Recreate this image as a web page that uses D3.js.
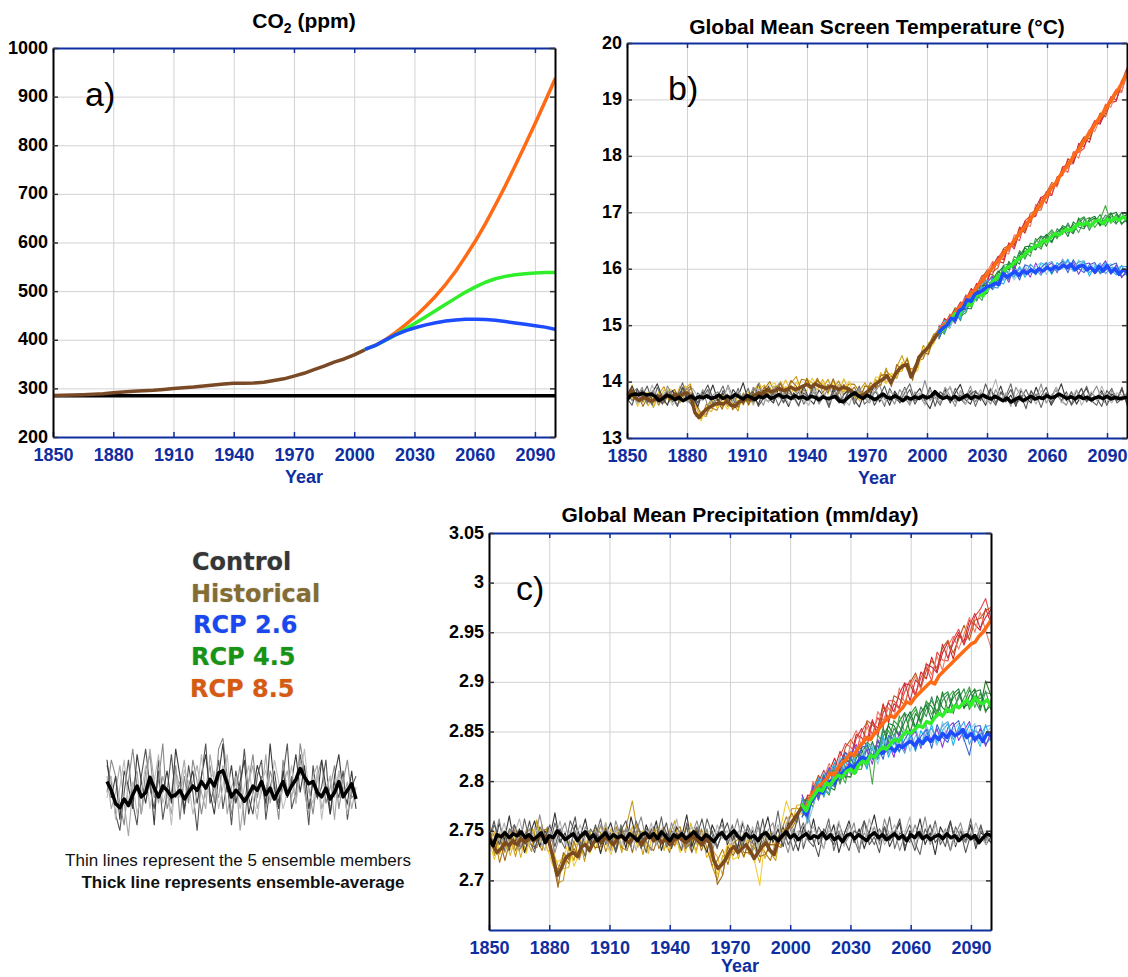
<!DOCTYPE html>
<html><head><meta charset="utf-8">
<script src="https://cdn.jsdelivr.net/npm/d3@7"></script>
<style>body{margin:0;background:#fff}svg{display:block}</style>
</head><body>
<svg id="chart" width="1128" height="977"></svg>
<script>
// ---------- categories / ticks ----------
const xTicks = [1850,1880,1910,1940,1970,2000,2030,2060,2090];
const yTicksA = [200,300,400,500,600,700,800,900,1000];
const yTicksB = [13,14,15,16,17,18,19,20];
const yTicksC = [2.7,2.75,2.8,2.85,2.9,2.95,3,3.05];
const legendNames = ["Control","Historical","RCP 2.6","RCP 4.5","RCP 8.5"];

// ---------- panel a: CO2 (ppm) ----------
const co2Control = [285,285];                 // 1850-2100
const co2Hist = [285.2,285.8,286.4,287.0,287.9,289.0,290.8,292.4,294.0,295.0,296.1,297.7,299.7,301.4,303.0,305.1,307.0,309.0,310.5,310.4,311.0,312.8,316.3,319.6,325.2,331.0,338.4,345.6,354.0,360.5,369.0,378.8]; // 1850-2005
const co2Rcp26 = [381.0,389.1,400.2,410.7,418.9,425.1,430.6,435.0,438.4,440.8,442.1,442.4,441.7,440.2,437.5,434.6,431.9,429.0,426.0,421.4]; // 2006-2100
const co2Rcp45 = [381.0,389.0,399.6,410.6,422.8,435.0,447.4,460.0,472.8,485.6,498.0,508.7,518.3,525.4,530.3,533.7,535.9,537.2,538.1,538.4];
const co2Rcp85 = [381.0,389.3,401.0,415.8,431.5,449.3,468.9,490.1,514.0,541.0,571.5,603.5,638.9,677.1,716.5,758.2,801.0,844.8,890.0,935.9];

// ---------- panel b: temperature (deg C) ----------
const ctrlMeanT = [13.68,13.76,13.78,13.77,13.79,13.76,13.78,13.74,13.66,13.70,13.76,13.73,13.68,13.72,13.66,13.70,13.74,13.69,13.73,13.71,13.75,13.70,13.72,13.76,13.70,13.74,13.71,13.77,13.73,13.69,13.75,13.72,13.68,13.74,13.71,13.76,13.70,13.73,13.77,13.72,13.74,13.70,13.75,13.71,13.73,13.69,13.74,13.72,13.68,13.73,13.70,13.71,13.74,13.66,13.64,13.70,13.76,13.80,13.74,13.70,13.76,13.72,13.68,13.73,13.78,13.72,13.70,13.75,13.71,13.66,13.72,13.69,13.73,13.70,13.75,13.71,13.74,13.82,13.75,13.70,13.73,13.69,13.74,13.68,13.72,13.76,13.70,13.74,13.71,13.76,13.72,13.69,13.74,13.70,13.66,13.71,13.64,13.68,13.72,13.66,13.70,13.74,13.69,13.72,13.70,13.75,13.71,13.73,13.78,13.74,13.70,13.73,13.69,13.74,13.70,13.72,13.68,13.71,13.73,13.70,13.74,13.69,13.72,13.70,13.71,13.72];
const ctrlT1 = [13.75,13.92,13.70,13.85,13.62,13.80,13.96,13.72,13.58,13.84,13.68,13.90,13.63,13.78,13.55,13.82,13.70,13.94,13.66,13.80,13.60,13.86,13.74,13.98,13.66,13.78,13.59,13.84,13.71,13.62,13.88,13.74,13.56,13.80,13.68,13.92,13.70,13.60,13.85,13.73,13.66,13.90,13.62,13.78,13.86,13.68,13.55,13.80,13.72,13.95,13.64,13.79,13.58,13.83,13.70,13.90,13.62,13.76,13.88,13.66,13.52,13.78,13.70,13.86,13.62,13.80,13.95,13.68,13.60,13.82,13.74,13.58,13.86,13.70,13.92,13.64,13.76,13.56,13.84,13.72,13.62,13.90,13.68,13.80,13.58,13.74,13.96,13.66,13.82,13.60,13.76,13.88,13.64,13.72,13.84,13.58,13.78,13.70,13.86,13.62];
const ctrlT2 = [13.62,13.80,13.88,13.66,13.74,13.58,13.90,13.70,13.82,13.64,13.76,13.98,13.68,13.56,13.80,13.72,13.86,13.60,13.74,13.92,13.66,13.58,13.82,13.70,13.88,13.62,13.96,13.72,13.64,13.80,13.57,13.76,13.90,13.68,13.82,13.60,13.74,13.94,13.66,13.78,13.58,13.86,13.70,13.62,13.84,13.74,13.92,13.60,13.68,13.82,13.76,13.56,13.88,13.70,13.64,13.80,13.96,13.66,13.74,13.60,13.86,13.72,13.58,13.80,13.90,13.64,13.76,13.68,13.84,13.56,13.78,13.70,13.88,13.62,13.82,13.74,13.96,13.60,13.70,13.86,13.66,13.78,13.54,13.80,13.72,13.90,13.64,13.76,13.60,13.84,13.70,13.92,13.66,13.58,13.80,13.74,13.88,13.62,13.70,13.78];
const ctrlT3 = [13.80,13.66,13.74,13.90,13.60,13.84,13.70,13.62,13.92,13.76,13.58,13.82,13.88,13.70,13.64,13.86,13.56,13.76,13.82,13.68,13.94,13.72,13.60,13.78,13.66,13.90,13.74,13.58,13.84,13.70,13.96,13.64,13.80,13.72,13.56,13.88,13.66,13.82,13.60,13.74,13.92,13.70,13.84,13.58,13.76,13.66,13.88,13.72,13.62,13.80,13.94,13.68,13.76,13.60,13.86,13.72,13.58,13.82,13.70,14.02,13.66,13.78,13.62,13.90,13.74,13.56,13.84,13.70,13.92,13.64,13.80,13.72,13.60,13.86,13.68,13.78,13.56,13.90,13.74,13.64,13.82,13.70,13.96,13.62,13.76,13.84,13.66,13.58,13.80,13.72,13.88,13.64,13.76,13.92,13.68,13.60,13.84,13.74,13.66,13.80];
const ctrlT4 = [13.70,13.58,13.86,13.74,13.92,13.66,13.78,13.60,13.84,13.72,13.56,13.90,13.68,13.80,13.62,13.76,13.94,13.70,13.58,13.84,13.72,13.64,13.88,13.60,13.76,13.82,13.56,13.70,13.92,13.66,13.78,13.62,13.86,13.74,13.58,13.80,13.70,13.90,13.64,13.76,13.54,13.84,13.72,13.66,13.88,13.60,13.78,13.70,13.84,13.58,13.74,13.92,13.66,13.80,13.62,13.72,13.86,13.60,13.76,13.68,13.90,13.56,13.82,13.74,13.64,13.88,13.70,13.60,13.78,13.84,13.66,13.96,13.72,13.58,13.80,13.70,13.86,13.62,13.76,13.52,13.84,13.68,13.74,13.90,13.62,13.78,13.66,13.82,13.58,13.72,13.88,13.64,13.80,13.70,13.56,13.84,13.74,13.66,13.90,13.58];
const ctrlT5 = [13.66,13.84,13.60,13.78,13.70,13.94,13.64,13.76,13.86,13.58,13.72,13.80,13.62,13.88,13.74,13.66,13.82,13.56,13.78,13.70,13.90,13.62,13.84,13.68,13.76,13.58,13.86,13.72,13.64,13.92,13.70,13.80,13.60,13.74,13.84,13.66,13.58,13.88,13.72,13.80,13.62,13.76,13.94,13.68,13.58,13.84,13.70,13.78,13.64,13.90,13.72,13.60,13.82,13.76,13.68,13.88,13.62,13.74,13.80,13.58,13.86,13.70,13.64,13.76,13.92,13.66,13.82,13.60,13.74,13.70,13.86,13.62,13.78,14.04,13.68,13.80,13.58,13.74,13.88,13.64,13.76,13.60,13.84,13.72,13.66,13.90,13.62,13.78,13.70,13.86,13.58,13.74,13.82,13.66,13.92,13.70,13.62,13.80,13.76,13.68];

const histMeanT = [13.70,13.85,13.72,13.66,13.72,13.70,13.65,13.68,13.74,13.72,13.76,13.70,13.78,13.74,13.78,13.80,13.72,13.45,13.36,13.45,13.52,13.56,13.60,13.62,13.60,13.65,13.58,13.56,13.64,13.66,13.70,13.68,13.76,13.80,13.78,13.86,13.82,13.84,13.88,13.84,13.86,13.90,13.86,13.88,13.92,13.95,13.90,13.96,13.92,13.90,13.88,13.92,13.90,13.86,13.90,13.88,13.84,13.78,13.74,13.76,13.82,13.88,13.95,14.00,14.04,14.10,13.98,14.12,14.22,14.28,14.30,14.08,14.22,14.42,14.52,14.58,14.68,14.78,14.88];
const histT1 = [13.82,13.72,13.85,13.63,13.80,13.54,13.78,13.91,13.64,13.78,13.62,13.88,13.96,13.44,13.41,13.38,13.68,13.56,13.77,13.56,13.63,13.48,13.80,13.64,13.84,13.98,13.71,13.90,13.73,14.00,13.82,13.97,14.09,13.83,13.99,13.79,14.05,13.87,14.04,13.82,13.95,13.77,13.90,13.66,13.84,13.98,13.80,14.04,13.93,14.24,13.95,14.26,14.46,14.20,14.16,14.26,14.64,14.52,14.82,14.94];
const histT2 = [13.60,13.94,13.64,13.77,13.57,13.73,13.68,13.85,13.77,13.63,13.92,13.72,13.81,13.38,13.46,13.50,13.47,13.74,13.55,13.74,13.55,13.75,13.58,13.82,13.69,13.86,13.94,13.74,13.93,13.83,14.03,13.81,13.90,13.78,14.04,13.98,13.85,14.04,13.84,14.02,13.80,14.05,13.82,13.82,13.65,13.92,13.93,13.89,14.16,13.99,14.10,14.18,14.18,14.43,14.07,14.42,14.44,14.69,14.68,14.88];
const histT3 = [13.75,13.68,13.78,13.82,13.64,13.77,13.58,13.76,13.84,13.67,13.81,13.69,13.89,13.58,13.33,13.60,13.53,13.49,13.70,13.68,13.72,13.54,13.77,13.58,13.77,13.71,13.87,14.00,13.79,13.97,13.74,13.93,13.80,14.04,14.02,13.89,14.06,13.80,13.95,13.87,14.01,13.82,13.96,13.95,13.81,13.72,13.98,13.90,13.95,14.19,14.09,14.06,14.31,14.24,14.22,14.38,14.40,14.64,14.84,14.85];
const histT4 = [13.64,13.84,13.56,13.74,13.82,13.57,13.82,13.68,13.87,13.83,13.72,13.93,13.64,13.60,13.30,13.54,13.70,13.53,13.65,13.51,13.68,13.67,13.61,13.79,13.60,13.92,13.77,13.94,13.97,13.79,13.92,13.78,13.99,13.85,13.84,14.06,13.92,13.98,13.77,14.00,13.91,13.83,14.01,13.71,13.87,13.75,13.76,14.08,14.07,13.96,14.15,14.08,14.35,14.22,14.14,14.20,14.58,14.54,14.67,14.93];
const histT5 = [13.79,13.75,13.80,13.56,13.74,13.79,13.65,13.62,13.80,13.86,13.68,13.84,13.92,13.62,13.43,13.42,13.60,13.68,13.51,13.78,13.50,13.63,13.78,13.60,13.89,13.74,13.91,13.72,13.89,13.96,13.79,14.02,13.92,13.79,14.06,13.85,14.02,13.93,13.80,14.05,13.78,13.95,13.80,13.90,13.71,13.92,13.90,13.86,14.11,14.13,13.91,14.30,14.22,14.40,14.02,14.44,14.53,14.48,14.80,14.84];

const rcp26MeanT = [14.88,14.95,15.00,15.12,15.10,15.25,15.30,15.45,15.42,15.55,15.58,15.62,15.68,15.70,15.74,15.72,15.92,15.85,15.90,15.95,15.88,15.96,15.92,15.98,15.94,16.00,15.96,16.02,15.98,16.04,16.00,16.06,16.02,16.08,15.98,16.04,16.06,15.98,16.02,15.94,16.04,15.96,16.06,15.94,16.00,15.90,15.98,15.94];
const rcp26T1 = [14.98,14.91,15.17,15.03,15.27,15.52,15.37,15.58,15.50,15.77,15.86,15.69,15.93,15.76,16.05,15.87,16.00,15.85,16.10,15.91,16.04,16.10,15.93,16.17,15.99,16.12,15.90,16.08,16.10,15.91,16.01,16.14,15.90,16.07,15.84,15.98];
const rcp26T2 = [14.80,15.09,15.01,15.22,15.11,15.44,15.58,15.46,15.67,15.62,15.82,15.77,15.73,15.94,15.88,16.04,15.85,16.00,15.89,16.10,16.06,15.90,16.11,16.01,16.17,15.96,16.07,16.12,15.87,16.05,15.94,16.11,15.98,15.89,16.06,15.88];
const rcp26T3 = [14.92,15.06,14.95,15.18,15.35,15.31,15.47,15.67,15.57,15.59,15.78,15.86,15.79,15.96,15.80,15.95,16.05,15.92,16.04,16.11,15.90,16.06,15.97,16.16,16.07,15.95,16.16,15.96,16.03,16.08,15.90,16.05,16.09,15.91,15.97,16.02];
const rcp26T4 = [14.76,15.02,15.13,15.05,15.32,15.34,15.34,15.62,15.76,15.72,15.63,15.83,15.97,15.81,15.99,15.80,16.07,16.03,15.90,16.02,16.11,15.92,16.05,16.13,15.93,16.16,16.00,15.93,16.07,16.11,15.92,15.97,16.06,16.10,15.86,15.92];
const rcp26T5 = [14.95,14.87,15.09,15.25,15.19,15.26,15.54,15.49,15.72,15.80,15.67,15.66,15.99,15.91,15.85,16.01,15.89,16.08,15.99,15.88,16.08,16.13,15.95,16.09,16.13,16.00,16.12,16.14,15.93,16.01,16.10,15.91,16.02,16.01,16.04,16.04];

const rcp45MeanT = [14.88,14.92,15.02,15.08,15.20,15.18,15.30,15.38,15.35,15.50,15.55,15.52,15.65,15.72,15.80,15.88,15.92,16.02,16.05,16.12,16.18,16.22,16.30,16.34,16.40,16.42,16.50,16.48,16.56,16.62,16.60,16.66,16.70,16.68,16.74,16.80,16.78,16.82,16.76,16.84,16.86,16.80,16.88,16.84,16.90,16.86,16.92,16.88];
const rcp45T1 = [14.92,15.03,14.95,15.21,15.32,15.27,15.42,15.64,15.51,15.57,15.81,15.96,15.86,16.13,15.97,16.23,16.37,16.29,16.48,16.58,16.40,16.62,16.57,16.76,16.71,16.62,16.90,16.74,16.84,16.90,16.76,16.89,16.99,16.81,16.91,16.96];
const rcp45T2 = [14.95,14.84,15.09,15.28,15.16,15.22,15.49,15.46,15.66,15.78,15.70,15.76,16.06,16.08,16.02,16.29,16.21,16.45,16.43,16.35,16.58,16.69,16.55,16.69,16.77,16.67,16.86,16.92,16.74,16.83,16.96,16.75,16.92,16.91,16.98,16.98];
const rcp45T3 = [14.98,14.88,15.17,15.06,15.24,15.48,15.32,15.55,15.44,15.75,15.89,15.79,16.00,15.93,16.22,16.15,16.32,16.22,16.54,16.38,16.54,16.66,16.53,16.77,16.63,16.79,16.64,16.86,16.91,16.73,16.87,17.12,16.80,16.97,16.78,16.92];
const rcp45T4 = [14.80,15.06,15.01,15.25,15.08,15.40,15.53,15.43,15.61,15.60,15.85,15.87,15.80,16.11,16.05,16.32,16.17,16.37,16.33,16.57,16.56,16.46,16.71,16.61,16.81,16.63,16.81,16.90,16.68,16.87,16.80,16.95,16.88,16.79,17.00,16.82];
const rcp45T5 = [14.76,14.99,15.13,15.08,15.29,15.30,15.29,15.59,15.70,15.70,15.66,15.93,16.04,15.98,16.16,16.08,16.39,16.40,16.34,16.49,16.61,16.48,16.65,16.73,16.57,16.83,16.74,16.71,16.88,16.93,16.78,16.81,16.96,17.00,16.80,16.86];

const rcp85MeanT = [14.90,14.98,15.05,15.15,15.22,15.30,15.38,15.48,15.55,15.62,15.72,15.80,15.90,15.98,16.08,16.15,16.26,16.35,16.42,16.52,16.62,16.70,16.80,16.90,17.00,17.10,17.20,17.30,17.42,17.50,17.62,17.72,17.82,17.92,18.04,18.12,18.24,18.34,18.44,18.56,18.66,18.76,18.88,18.98,19.10,19.20,19.32,19.46];
const rcp85T1 = [14.82,15.12,15.04,15.28,15.17,15.46,15.65,15.53,15.79,15.80,16.09,16.13,16.10,16.44,16.43,16.74,16.63,16.90,16.93,17.26,17.32,17.30,17.63,17.65,17.95,17.87,18.13,18.32,18.24,18.57,18.60,18.89,18.94,18.97,19.34,19.40];
const rcp85T2 = [14.78,15.05,15.16,15.11,15.38,15.36,15.41,15.69,15.88,15.90,15.90,16.19,16.34,16.31,16.54,16.50,16.85,16.93,16.94,17.18,17.37,17.32,17.57,17.77,17.71,18.07,18.06,18.13,18.44,18.63,18.58,18.75,19.02,19.18,19.14,19.44];
const rcp85T3 = [14.97,14.90,15.12,15.31,15.25,15.28,15.61,15.56,15.84,15.98,15.94,16.02,16.36,16.41,16.40,16.71,16.67,16.98,17.03,17.04,17.34,17.53,17.47,17.73,17.91,17.91,18.18,18.34,18.30,18.53,18.76,18.69,18.98,19.09,19.32,19.56];
const rcp85T4 = [15.00,14.94,15.20,15.09,15.33,15.54,15.44,15.65,15.62,15.95,16.13,16.05,16.30,16.26,16.60,16.57,16.78,16.75,17.14,17.07,17.30,17.50,17.45,17.81,17.77,18.03,17.96,18.28,18.47,18.43,18.67,18.92,18.86,19.15,19.12,19.50];
const rcp85T5 = [14.94,15.09,14.98,15.24,15.41,15.33,15.54,15.74,15.69,15.77,16.05,16.22,16.16,16.46,16.35,16.65,16.83,16.82,17.08,17.27,17.16,17.46,17.49,17.80,17.85,17.86,18.22,18.16,18.40,18.60,18.56,18.83,19.05,18.99,19.25,19.54];

// ---------- panel c: precipitation (mm/day) ----------
const ctrlMeanP = [2.742,2.735,2.746,2.744,2.748,2.743,2.747,2.745,2.749,2.743,2.746,2.741,2.744,2.748,2.738,2.745,2.743,2.750,2.746,2.741,2.744,2.747,2.740,2.745,2.749,2.742,2.746,2.740,2.744,2.748,2.742,2.746,2.743,2.745,2.741,2.747,2.744,2.740,2.746,2.748,2.743,2.747,2.742,2.749,2.744,2.740,2.746,2.743,2.747,2.742,2.745,2.749,2.744,2.741,2.746,2.743,2.739,2.745,2.748,2.742,2.746,2.750,2.744,2.741,2.747,2.743,2.745,2.740,2.746,2.748,2.742,2.744,2.740,2.745,2.749,2.743,2.746,2.741,2.744,2.747,2.742,2.745,2.743,2.748,2.742,2.746,2.741,2.744,2.739,2.745,2.747,2.742,2.746,2.743,2.740,2.745,2.748,2.743,2.746,2.741,2.744,2.747,2.742,2.745,2.740,2.746,2.743,2.748,2.742,2.745,2.741,2.744,2.746,2.742,2.747,2.743,2.745,2.740,2.744,2.746,2.742,2.745,2.738,2.743,2.747,2.745];
const ctrlP1 = [2.750,2.732,2.758,2.740,2.765,2.736,2.752,2.728,2.746,2.760,2.734,2.750,2.742,2.768,2.738,2.748,2.730,2.756,2.744,2.762,2.736,2.750,2.727,2.746,2.758,2.740,2.752,2.732,2.764,2.744,2.736,2.756,2.742,2.760,2.730,2.748,2.738,2.754,2.744,2.766,2.734,2.750,2.740,2.728,2.756,2.744,2.762,2.736,2.748,2.732,2.758,2.742,2.750,2.726,2.746,2.764,2.738,2.752,2.734,2.758,2.744,2.730,2.754,2.740,2.762,2.736,2.748,2.742,2.756,2.728,2.746,2.760,2.738,2.752,2.732,2.748,2.766,2.740,2.754,2.734,2.746,2.758,2.730,2.750,2.742,2.762,2.736,2.748,2.726,2.754,2.744,2.760,2.734,2.750,2.740,2.756,2.732,2.748,2.744,2.738];
const ctrlP2 = [2.738,2.756,2.744,2.730,2.752,2.748,2.734,2.762,2.740,2.728,2.754,2.746,2.736,2.758,2.742,2.732,2.760,2.748,2.738,2.724,2.752,2.744,2.762,2.736,2.748,2.730,2.756,2.742,2.734,2.760,2.746,2.728,2.752,2.740,2.764,2.734,2.750,2.744,2.730,2.758,2.742,2.754,2.736,2.762,2.746,2.732,2.750,2.740,2.756,2.728,2.744,2.752,2.738,2.760,2.734,2.748,2.742,2.770,2.736,2.750,2.730,2.746,2.758,2.740,2.734,2.754,2.744,2.762,2.730,2.748,2.738,2.756,2.742,2.728,2.760,2.746,2.736,2.752,2.740,2.764,2.732,2.748,2.744,2.756,2.738,2.726,2.752,2.742,2.760,2.736,2.746,2.730,2.754,2.744,2.738,2.762,2.734,2.750,2.742,2.748];
const ctrlP3 = [2.746,2.740,2.762,2.734,2.748,2.756,2.730,2.744,2.752,2.738,2.766,2.742,2.750,2.728,2.746,2.758,2.736,2.750,2.732,2.754,2.746,2.738,2.756,2.742,2.730,2.760,2.744,2.752,2.736,2.748,2.764,2.740,2.730,2.754,2.746,2.736,2.758,2.742,2.750,2.734,2.746,2.760,2.740,2.752,2.728,2.748,2.756,2.738,2.744,2.762,2.736,2.748,2.730,2.754,2.742,2.750,2.758,2.736,2.744,2.728,2.752,2.740,2.748,2.766,2.738,2.746,2.732,2.756,2.742,2.750,2.736,2.744,2.758,2.730,2.748,2.740,2.754,2.736,2.762,2.744,2.750,2.730,2.746,2.738,2.756,2.742,2.764,2.736,2.748,2.740,2.752,2.730,2.746,2.758,2.738,2.748,2.736,2.754,2.740,2.746];
const ctrlP4 = [2.742,2.760,2.736,2.750,2.730,2.756,2.744,2.738,2.760,2.732,2.748,2.742,2.756,2.734,2.752,2.740,2.746,2.764,2.730,2.748,2.740,2.756,2.736,2.752,2.744,2.728,2.750,2.760,2.738,2.746,2.732,2.752,2.748,2.736,2.744,2.758,2.732,2.748,2.740,2.754,2.728,2.744,2.762,2.738,2.750,2.734,2.746,2.758,2.740,2.748,2.732,2.756,2.744,2.738,2.762,2.730,2.748,2.742,2.754,2.736,2.746,2.766,2.732,2.750,2.740,2.724,2.752,2.744,2.736,2.758,2.742,2.730,2.750,2.746,2.760,2.736,2.744,2.728,2.754,2.740,2.748,2.762,2.734,2.744,2.730,2.750,2.742,2.756,2.738,2.746,2.734,2.758,2.742,2.750,2.728,2.746,2.740,2.756,2.736,2.744];
const ctrlP5 = [2.752,2.744,2.740,2.758,2.734,2.746,2.762,2.740,2.736,2.754,2.744,2.730,2.752,2.740,2.760,2.736,2.750,2.744,2.756,2.738,2.732,2.750,2.744,2.758,2.740,2.752,2.736,2.746,2.752,2.730,2.748,2.740,2.758,2.736,2.752,2.744,2.740,2.762,2.736,2.746,2.754,2.738,2.748,2.744,2.734,2.756,2.742,2.750,2.736,2.746,2.760,2.740,2.754,2.732,2.748,2.740,2.746,2.756,2.738,2.764,2.742,2.750,2.736,2.748,2.754,2.740,2.732,2.750,2.746,2.760,2.734,2.756,2.742,2.748,2.738,2.762,2.744,2.750,2.736,2.746,2.756,2.740,2.748,2.764,2.734,2.752,2.744,2.738,2.756,2.742,2.750,2.744,2.736,2.752,2.746,2.740,2.758,2.744,2.736,2.750];

const histMeanP = [2.745,2.735,2.728,2.732,2.738,2.735,2.740,2.736,2.742,2.738,2.744,2.740,2.742,2.746,2.744,2.738,2.722,2.705,2.712,2.722,2.726,2.728,2.724,2.734,2.736,2.730,2.738,2.742,2.738,2.744,2.740,2.736,2.742,2.745,2.740,2.738,2.744,2.741,2.736,2.742,2.746,2.740,2.744,2.738,2.742,2.736,2.740,2.745,2.741,2.738,2.742,2.744,2.740,2.736,2.742,2.738,2.720,2.712,2.716,2.722,2.730,2.734,2.728,2.732,2.736,2.730,2.722,2.728,2.734,2.738,2.730,2.726,2.740,2.744,2.750,2.756,2.762,2.768,2.774];
const histP1 = [2.757,2.725,2.748,2.728,2.745,2.724,2.748,2.743,2.729,2.761,2.734,2.746,2.739,2.697,2.700,2.733,2.720,2.745,2.719,2.747,2.743,2.728,2.758,2.733,2.753,2.728,2.758,2.780,2.748,2.726,2.751,2.738,2.753,2.731,2.746,2.760,2.730,2.745,2.730,2.750,2.734,2.751,2.715,2.700,2.725,2.721,2.745,2.722,2.749,2.726,2.733,2.718,2.750,2.728,2.720,2.751,2.744,2.772,2.773,2.770];
const histP2 = [2.737,2.749,2.726,2.744,2.725,2.744,2.723,2.751,2.749,2.739,2.756,2.730,2.730,2.715,2.712,2.713,2.736,2.737,2.725,2.750,2.731,2.746,2.739,2.752,2.735,2.750,2.739,2.754,2.733,2.745,2.727,2.751,2.744,2.730,2.752,2.734,2.745,2.728,2.758,2.736,2.750,2.723,2.731,2.724,2.705,2.740,2.728,2.737,2.723,2.744,2.718,2.740,2.722,2.740,2.742,2.735,2.758,2.755,2.776,2.776];
const histP3 = [2.750,2.745,2.718,2.738,2.751,2.730,2.744,2.729,2.753,2.741,2.730,2.754,2.719,2.711,2.726,2.717,2.740,2.721,2.739,2.733,2.753,2.748,2.729,2.744,2.754,2.733,2.730,2.748,2.756,2.734,2.747,2.754,2.732,2.744,2.728,2.750,2.754,2.734,2.746,2.729,2.752,2.733,2.715,2.720,2.731,2.716,2.737,2.742,2.728,2.728,2.738,2.736,2.728,2.720,2.740,2.749,2.764,2.752,2.762,2.780];
const histP4 = [2.741,2.721,2.738,2.746,2.731,2.748,2.742,2.727,2.747,2.755,2.746,2.732,2.715,2.719,2.722,2.739,2.714,2.727,2.745,2.727,2.747,2.754,2.737,2.726,2.748,2.753,2.734,2.746,2.740,2.750,2.731,2.746,2.754,2.734,2.732,2.746,2.728,2.754,2.749,2.727,2.748,2.747,2.721,2.706,2.723,2.736,2.721,2.724,2.744,2.746,2.720,2.695,2.742,2.748,2.724,2.755,2.780,2.764,2.764,2.768];
const histP5 = [2.753,2.731,2.742,2.720,2.741,2.752,2.732,2.749,2.735,2.733,2.750,2.752,2.721,2.693,2.728,2.721,2.732,2.723,2.747,2.741,2.733,2.734,2.753,2.742,2.730,2.749,2.750,2.728,2.750,2.748,2.735,2.730,2.746,2.754,2.736,2.736,2.750,2.732,2.737,2.753,2.730,2.743,2.735,2.696,2.705,2.734,2.725,2.736,2.724,2.740,2.736,2.724,2.726,2.736,2.736,2.733,2.756,2.768,2.758,2.782];

const rcp26MeanP = [2.776,2.766,2.778,2.784,2.790,2.788,2.796,2.800,2.798,2.806,2.808,2.812,2.816,2.814,2.820,2.824,2.822,2.826,2.824,2.830,2.828,2.832,2.834,2.830,2.836,2.834,2.838,2.840,2.836,2.842,2.838,2.844,2.840,2.846,2.842,2.848,2.844,2.850,2.846,2.848,2.852,2.844,2.848,2.842,2.846,2.840,2.848,2.846];
const rcp26P1 = [2.786,2.762,2.796,2.781,2.801,2.814,2.798,2.815,2.803,2.827,2.837,2.820,2.832,2.817,2.842,2.829,2.839,2.824,2.850,2.831,2.844,2.850,2.833,2.856,2.839,2.853,2.834,2.854,2.859,2.841,2.851,2.860,2.839,2.853,2.835,2.850];
const rcp26P2 = [2.768,2.780,2.780,2.800,2.785,2.806,2.819,2.803,2.820,2.812,2.833,2.828,2.812,2.835,2.825,2.846,2.824,2.839,2.829,2.850,2.846,2.830,2.851,2.840,2.857,2.837,2.851,2.858,2.836,2.855,2.844,2.857,2.847,2.835,2.857,2.840];
const rcp26P3 = [2.780,2.757,2.774,2.796,2.809,2.793,2.808,2.824,2.810,2.809,2.829,2.837,2.818,2.837,2.817,2.837,2.844,2.831,2.844,2.851,2.830,2.846,2.837,2.855,2.847,2.836,2.860,2.842,2.852,2.858,2.840,2.851,2.858,2.837,2.848,2.854];
const rcp26P4 = [2.764,2.773,2.792,2.783,2.806,2.796,2.795,2.819,2.829,2.822,2.814,2.834,2.836,2.822,2.836,2.822,2.846,2.842,2.830,2.842,2.851,2.832,2.845,2.852,2.833,2.857,2.844,2.839,2.856,2.861,2.842,2.826,2.855,2.856,2.837,2.844];
const rcp26P5 = [2.783,2.758,2.788,2.803,2.793,2.788,2.815,2.806,2.825,2.830,2.818,2.817,2.838,2.832,2.822,2.843,2.828,2.847,2.839,2.828,2.848,2.853,2.835,2.848,2.853,2.841,2.856,2.860,2.842,2.851,2.860,2.837,2.851,2.847,2.855,2.856];

const rcp45MeanP = [2.776,2.770,2.780,2.786,2.792,2.790,2.798,2.796,2.802,2.806,2.804,2.810,2.812,2.808,2.816,2.820,2.818,2.826,2.824,2.830,2.834,2.832,2.838,2.842,2.840,2.846,2.850,2.848,2.852,2.856,2.854,2.860,2.858,2.864,2.868,2.866,2.872,2.870,2.876,2.874,2.878,2.882,2.876,2.884,2.880,2.878,2.882,2.876];
const rcp45P1 = [2.780,2.781,2.774,2.796,2.808,2.791,2.804,2.818,2.805,2.804,2.823,2.832,2.819,2.840,2.822,2.845,2.856,2.845,2.860,2.869,2.849,2.868,2.861,2.880,2.875,2.865,2.890,2.872,2.884,2.890,2.873,2.886,2.893,2.873,2.901,2.886];
const rcp45P2 = [2.783,2.762,2.788,2.803,2.792,2.786,2.811,2.800,2.820,2.825,2.812,2.812,2.839,2.835,2.827,2.851,2.840,2.861,2.855,2.846,2.867,2.875,2.859,2.873,2.881,2.870,2.886,2.890,2.874,2.883,2.893,2.872,2.886,2.883,2.889,2.888];
const rcp45P3 = [2.786,2.766,2.796,2.781,2.800,2.812,2.794,2.809,2.798,2.822,2.831,2.815,2.833,2.797,2.847,2.837,2.851,2.838,2.866,2.849,2.863,2.872,2.857,2.881,2.867,2.882,2.864,2.884,2.891,2.873,2.884,2.895,2.874,2.889,2.869,2.882];
const rcp45P4 = [2.768,2.784,2.780,2.800,2.784,2.804,2.815,2.797,2.815,2.807,2.827,2.823,2.813,2.838,2.830,2.854,2.836,2.853,2.845,2.868,2.865,2.852,2.875,2.865,2.885,2.866,2.881,2.888,2.868,2.887,2.877,2.892,2.882,2.871,2.891,2.872];
const rcp45P5 = [2.764,2.777,2.792,2.783,2.805,2.794,2.791,2.813,2.824,2.817,2.808,2.829,2.837,2.825,2.841,2.830,2.858,2.856,2.846,2.860,2.870,2.854,2.869,2.877,2.861,2.886,2.874,2.869,2.888,2.893,2.875,2.878,2.890,2.892,2.871,2.876];

const rcp85MeanP = [2.776,2.772,2.784,2.790,2.794,2.798,2.802,2.808,2.806,2.814,2.818,2.822,2.828,2.826,2.834,2.838,2.844,2.842,2.848,2.852,2.858,2.862,2.866,2.864,2.870,2.874,2.880,2.878,2.884,2.888,2.892,2.896,2.900,2.898,2.906,2.910,2.914,2.918,2.922,2.926,2.930,2.934,2.938,2.940,2.946,2.950,2.956,2.962];
const rcp85P1 = [2.768,2.786,2.784,2.803,2.787,2.810,2.823,2.809,2.829,2.824,2.847,2.844,2.835,2.860,2.853,2.878,2.859,2.878,2.873,2.898,2.897,2.886,2.910,2.903,2.925,2.910,2.929,2.940,2.923,2.947,2.941,2.962,2.958,2.952,2.974,2.959];
const rcp85P2 = [2.764,2.779,2.796,2.786,2.808,2.800,2.799,2.825,2.838,2.834,2.828,2.850,2.859,2.847,2.864,2.854,2.881,2.881,2.874,2.890,2.902,2.888,2.904,2.915,2.901,2.930,2.922,2.921,2.943,2.953,2.939,2.948,2.966,2.973,2.984,2.963];
const rcp85P3 = [2.783,2.764,2.792,2.806,2.795,2.792,2.819,2.812,2.834,2.842,2.832,2.833,2.861,2.857,2.850,2.875,2.863,2.886,2.883,2.876,2.899,2.909,2.894,2.911,2.921,2.914,2.934,2.942,2.929,2.943,2.957,2.942,2.962,2.964,2.972,2.975];
const rcp85P4 = [2.786,2.768,2.800,2.784,2.803,2.818,2.802,2.821,2.812,2.839,2.851,2.836,2.855,2.842,2.870,2.861,2.874,2.863,2.894,2.879,2.895,2.906,2.892,2.919,2.907,2.926,2.912,2.936,2.946,2.933,2.948,2.965,2.950,2.970,2.952,2.934];
const rcp85P5 = [2.780,2.783,2.778,2.799,2.811,2.797,2.812,2.830,2.819,2.821,2.843,2.853,2.841,2.862,2.845,2.869,2.879,2.870,2.888,2.899,2.881,2.902,2.896,2.918,2.915,2.909,2.938,2.924,2.939,2.950,2.937,2.956,2.969,2.954,2.965,2.973];

// ---------- legend illustration (arbitrary units 0..10) ----------
const ensMean = [6.0,5.2,4.0,3.6,4.4,3.8,4.8,5.6,4.6,5.0,6.4,5.4,4.6,5.6,5.2,4.6,4.8,5.2,4.4,5.0,5.6,5.2,6.0,5.4,6.2,5.6,6.8,7.0,5.8,4.6,5.2,4.8,4.2,4.8,5.6,5.2,6.0,4.8,5.4,4.4,5.2,6.0,4.8,5.6,6.2,7.2,6.4,5.8,6.0,5.0,4.6,5.4,4.4,5.0,6.0,4.6,5.2,5.8,4.4];
const ens1 = [7.5,6.0,3.0,1.5,5.0,8.0,4.0,2.0,6.5,9.0,5.5,3.5,7.0,2.5,5.0,8.5,4.5,6.0,3.0,7.5,5.0,1.5,6.5,9.5,4.0,5.5,8.0,3.5,6.0,2.0,7.0,5.0,9.0,4.5,3.0,6.5,8.0,2.5,5.5,7.0,4.0,6.5,9.5,3.5,5.0,8.5,6.0,2.0,7.5,4.5,5.5,8.0,3.0,6.0,4.5,7.0,2.5,5.5,6.5];
const ens2 = [5.0,8.0,6.5,4.0,2.0,6.0,9.0,5.5,3.0,7.0,8.5,4.5,6.0,9.5,3.5,5.0,7.5,2.5,6.5,4.0,8.0,6.0,3.0,5.5,7.5,4.0,9.0,10.0,6.5,3.0,5.0,7.5,2.0,6.0,8.5,4.5,6.5,3.5,7.0,5.5,2.5,8.0,5.0,6.5,4.0,9.5,7.0,5.5,3.0,6.5,8.0,4.0,5.5,7.5,3.5,6.0,8.0,4.5,5.0];
const ens3 = [6.5,3.5,5.0,7.5,4.0,1.0,5.5,7.0,3.0,5.5,9.0,6.0,4.0,6.5,5.0,3.0,7.0,5.5,8.0,4.5,6.0,7.5,5.0,3.5,8.5,6.0,4.5,7.5,3.0,5.5,6.5,1.5,4.5,6.0,7.5,3.5,5.0,8.5,4.0,6.0,3.5,5.5,7.0,4.5,6.5,8.0,5.0,3.0,6.5,7.5,3.5,5.0,6.5,2.5,7.0,4.5,6.0,3.5,5.5];
const ens4 = [8.0,4.5,6.5,2.5,7.0,5.5,3.5,8.5,6.0,4.0,6.5,2.0,8.0,5.0,7.0,4.0,9.0,6.5,3.5,5.5,7.0,4.0,6.5,8.5,5.0,3.0,6.5,9.5,5.0,7.5,4.0,6.0,8.0,3.0,5.0,7.5,6.0,4.0,9.5,5.5,3.5,7.0,4.5,6.0,8.5,5.0,7.5,3.5,6.0,4.5,8.0,5.5,3.0,6.5,8.5,5.0,4.0,7.0,3.5];
const ens5 = [4.5,6.5,2.5,5.5,8.0,4.0,6.0,3.0,5.0,7.5,3.5,6.0,8.5,4.0,5.5,2.0,6.5,4.5,7.0,6.0,3.0,5.0,8.5,4.5,6.0,7.0,3.5,5.5,8.5,4.0,6.0,3.5,5.5,7.5,4.5,2.5,6.0,7.0,4.5,8.0,6.0,3.5,5.0,7.5,4.0,6.5,9.0,5.0,4.0,7.0,2.5,5.5,6.5,4.5,7.0,5.5,3.0,6.0,4.0];

// ---------- styling ----------
const FONT = "'Liberation Sans', Arial, Helvetica, sans-serif";
const BLUE = "#0f2ea0";
const TICK_FS = 18, TITLE_FS = 21;
const C = {
  ctrlMean:"#000000", ctrlMem:["#333333","#666666","#8c8c8c","#555555","#b4b4b4"],
  histMean:"#7b4b1f", histMem:["#c89a12","#e2b424","#b07c12","#f2cc36","#a06a18"],
  r26Mean:"#1e4cff", r26Mem:["#8b3ad8","#1ab2ee","#8ccbe4","#3a66d0","#4aa2da"],
  r45Mean:"#30ee2a", r45Mem:["#1a7a1a","#2a9a3a","#4aa84a","#3a8a5a","#167a36"],
  r85Mean:"#ff6a14", r85Mem:["#d42020","#e64848","#b8561a","#f07a60","#c83040"]
};

const svg = d3.select("#chart");
svg.append("rect").attr("width",1128).attr("height",977).attr("fill","#fff");
let clipId = 0;

function drawPanel(cfg){
  const x = d3.scaleLinear().domain([1850,2100]).range([cfg.x0,cfg.x1]);
  const y = d3.scaleLinear().domain(cfg.yDomain).range([cfg.y1,cfg.y0]);
  const g = svg.append("g");
  const H = cfg.y1 - cfg.y0, W = cfg.x1 - cfg.x0;
  // grid
  g.append("g").attr("transform",`translate(0,${cfg.y1})`)
    .call(d3.axisBottom(x).tickValues(xTicks).tickSize(-H).tickFormat(""))
    .call(s=>{s.select(".domain").remove(); s.selectAll("line").attr("stroke","#d2d2d2").attr("stroke-width",1);});
  g.append("g").attr("transform",`translate(${cfg.x0},0)`)
    .call(d3.axisLeft(y).tickValues(cfg.yTicks).tickSize(-W).tickFormat(""))
    .call(s=>{s.select(".domain").remove(); s.selectAll("line").attr("stroke","#d2d2d2").attr("stroke-width",1);});
  // data
  const id = "clip"+(clipId++);
  svg.append("clipPath").attr("id",id).append("rect")
    .attr("x",cfg.x0).attr("y",cfg.y0).attr("width",W).attr("height",H);
  const dg = g.append("g").attr("clip-path",`url(#${id})`);
  const line = d3.line().x(d=>x(d[0])).y(d=>y(d[1]));
  cfg.series.forEach(s=>{
    const n = s.vals.length;
    const pts = s.vals.map((v,i)=>[s.start + i*(s.end - s.start)/(n-1), v]);
    dg.append("path").datum(pts).attr("d",line)
      .attr("fill","none").attr("stroke",s.color).attr("stroke-width",s.w)
      .attr("stroke-linejoin","round").attr("stroke-linecap","round");
  });
  // axes (ticks inward)
  const fmt = cfg.fmt || (d=>String(d));
  g.append("g").attr("transform",`translate(0,${cfg.y1})`)
    .call(d3.axisBottom(x).tickValues(xTicks).tickSize(-5).tickSizeOuter(0).tickPadding(11).tickFormat(d3.format("d")))
    .call(s=>{s.select(".domain").attr("stroke",BLUE).attr("stroke-width",2);
      s.selectAll("line").attr("stroke",BLUE).attr("stroke-width",1.5);
      s.selectAll("text").attr("fill",BLUE).attr("font-family",FONT).attr("font-weight","bold").attr("font-size",TICK_FS);});
  g.append("g").attr("transform",`translate(0,${cfg.y0})`)
    .call(d3.axisTop(x).tickValues(xTicks).tickSize(-5).tickSizeOuter(0).tickFormat(""))
    .call(s=>{s.select(".domain").attr("stroke",BLUE).attr("stroke-width",2);
      s.selectAll("line").attr("stroke",BLUE).attr("stroke-width",1.5);});
  g.append("g").attr("transform",`translate(${cfg.x0},0)`)
    .call(d3.axisLeft(y).tickValues(cfg.yTicks).tickSize(-5).tickSizeOuter(0).tickPadding(5).tickFormat(fmt))
    .call(s=>{s.select(".domain").attr("stroke","#000").attr("stroke-width",2);
      s.selectAll("line").attr("stroke","#333").attr("stroke-width",1.5);
      s.selectAll("text").attr("fill","#000").attr("font-family",FONT).attr("font-weight","bold").attr("font-size",TICK_FS).attr("dy","0.28em");});
  g.append("g").attr("transform",`translate(${cfg.x1},0)`)
    .call(d3.axisRight(y).tickValues(cfg.yTicks).tickSize(-5).tickSizeOuter(0).tickFormat(""))
    .call(s=>{s.select(".domain").attr("stroke","#000").attr("stroke-width",2);
      s.selectAll("line").attr("stroke","#333").attr("stroke-width",1.5);});
  // labels
  const cx = (cfg.x0+cfg.x1)/2;
  const t = g.append("text").attr("x",cx).attr("y",cfg.titleY).attr("text-anchor","middle")
    .attr("font-family",FONT).attr("font-weight","bold").attr("font-size",TITLE_FS).attr("fill","#000");
  cfg.title(t);
  g.append("text").attr("x",cx).attr("y",cfg.yearY).attr("text-anchor","middle")
    .attr("font-family",FONT).attr("font-weight","bold").attr("font-size",TICK_FS).attr("fill",BLUE).text("Year");
  g.append("text").attr("x",cfg.lab[0]).attr("y",cfg.lab[1])
    .attr("font-family",FONT).attr("font-size",34).attr("fill","#000").text(cfg.label);
}

function members(arrs, cols, start, end){ return arrs.map((a,i)=>({vals:a,start,end,color:cols[i],w:1.1})); }

// Panel a
drawPanel({
  x0:53, x1:555, y0:48, y1:437, yDomain:[200,1000], yTicks:yTicksA,
  titleY:28, yearY:483, label:"a)", lab:[85,106],
  title:t=>{t.append("tspan").text("CO");
            t.append("tspan").attr("font-size",14).attr("dy",5).text("2");
            t.append("tspan").attr("dy",-5).text(" (ppm)");},
  series:[
    {vals:co2Control,start:1850,end:2100,color:C.ctrlMean,w:3.5},
    {vals:co2Hist,start:1850,end:2005,color:"#7a4a26",w:3.5},
    {vals:co2Rcp85,start:2006,end:2100,color:C.r85Mean,w:3.5},
    {vals:co2Rcp45,start:2006,end:2100,color:C.r45Mean,w:3.5},
    {vals:co2Rcp26,start:2006,end:2100,color:C.r26Mean,w:3.5}
  ]
});

// Panel b
drawPanel({
  x0:627, x1:1127, y0:43, y1:438, yDomain:[13,20], yTicks:yTicksB,
  titleY:34, yearY:484, label:"b)", lab:[668,100],
  title:t=>t.text("Global Mean Screen Temperature (°C)"),
  series:[].concat(
    members([histT1,histT2,histT3,histT4,histT5],C.histMem,1850,2006),
    members([ctrlT1,ctrlT2,ctrlT3,ctrlT4,ctrlT5],C.ctrlMem,1850,2100),
    members([rcp85T1,rcp85T2,rcp85T3,rcp85T4,rcp85T5],C.r85Mem,2006,2100),
    members([rcp45T1,rcp45T2,rcp45T3,rcp45T4,rcp45T5],C.r45Mem,2006,2100),
    members([rcp26T1,rcp26T2,rcp26T3,rcp26T4,rcp26T5],C.r26Mem,2006,2100),
    [{vals:histMeanT,start:1850,end:2006,color:C.histMean,w:3.5},
     {vals:ctrlMeanT,start:1850,end:2100,color:C.ctrlMean,w:3.5},
     {vals:rcp85MeanT,start:2006,end:2100,color:C.r85Mean,w:3.5},
     {vals:rcp45MeanT,start:2006,end:2100,color:C.r45Mean,w:3.5},
     {vals:rcp26MeanT,start:2006,end:2100,color:C.r26Mean,w:3.5}]
  )
});

// Panel c
drawPanel({
  x0:489, x1:991, y0:533, y1:930, yDomain:[2.65,3.05], yTicks:yTicksC,
  fmt:d=>String(+d.toFixed(2)),
  titleY:522, yearY:972, label:"c)", lab:[516,600],
  title:t=>t.text("Global Mean Precipitation (mm/day)"),
  series:[].concat(
    members([histP1,histP2,histP3,histP4,histP5],C.histMem,1850,2006),
    members([ctrlP1,ctrlP2,ctrlP3,ctrlP4,ctrlP5],C.ctrlMem,1850,2100),
    members([rcp85P1,rcp85P2,rcp85P3,rcp85P4,rcp85P5],C.r85Mem,2006,2100),
    members([rcp45P1,rcp45P2,rcp45P3,rcp45P4,rcp45P5],C.r45Mem,2006,2100),
    members([rcp26P1,rcp26P2,rcp26P3,rcp26P4,rcp26P5],C.r26Mem,2006,2100),
    [{vals:histMeanP,start:1850,end:2006,color:C.histMean,w:3.5},
     {vals:ctrlMeanP,start:1850,end:2100,color:C.ctrlMean,w:3.5},
     {vals:rcp85MeanP,start:2006,end:2100,color:C.r85Mean,w:3.5},
     {vals:rcp26MeanP,start:2006,end:2100,color:C.r26Mean,w:3.5},
     {vals:rcp45MeanP,start:2006,end:2100,color:C.r45Mean,w:3.5}]
  )
});

// Legend
const legColors = ["#363636","#846d32","#1a48f0","#159415","#d85a10"];
const legY = [570,602,633,665,697];
const legX = [192,191,193,191,190];
const lg = svg.append("g");
legendNames.forEach((name,i)=>{
  lg.append("text").attr("x",legX[i]).attr("y",legY[i])
    .attr("font-family","'DejaVu Sans', Verdana, sans-serif").attr("font-weight","bold")
    .attr("font-size",24).attr("fill",legColors[i])
    .attr("style","text-shadow:0 0 1.5px rgba(0,0,0,0.25)")
    .text(name);
});

// Ensemble illustration
const ex = d3.scaleLinear().domain([0,1]).range([107,356]);
const ey = d3.scaleLinear().domain([0,10]).range([847,738]);
const eline = d3.line().x(d=>ex(d[0])).y(d=>ey(d[1]));
const ensCols = ["#555555","#8a8a8a","#a8a8a8","#3c3c3c","#bdbdbd"];
[ens1,ens2,ens3,ens4,ens5].forEach((a,i)=>{
  lg.append("path").datum(a.map((v,j)=>[j/(a.length-1),v])).attr("d",eline)
    .attr("fill","none").attr("stroke",ensCols[i]).attr("stroke-width",1.1);
});
lg.append("path").datum(ensMean.map((v,j)=>[j/(ensMean.length-1),v])).attr("d",eline)
  .attr("fill","none").attr("stroke","#000").attr("stroke-width",3.5).attr("stroke-linejoin","round");

lg.append("text").attr("x",238).attr("y",866).attr("text-anchor","middle")
  .attr("font-family",FONT).attr("font-size",17).attr("fill","#111")
  .text("Thin lines represent the 5 ensemble members");
lg.append("text").attr("x",243).attr("y",888).attr("text-anchor","middle")
  .attr("font-family",FONT).attr("font-weight","bold").attr("font-size",17).attr("fill","#111")
  .text("Thick line represents ensemble-average");
</script>
</body></html>
